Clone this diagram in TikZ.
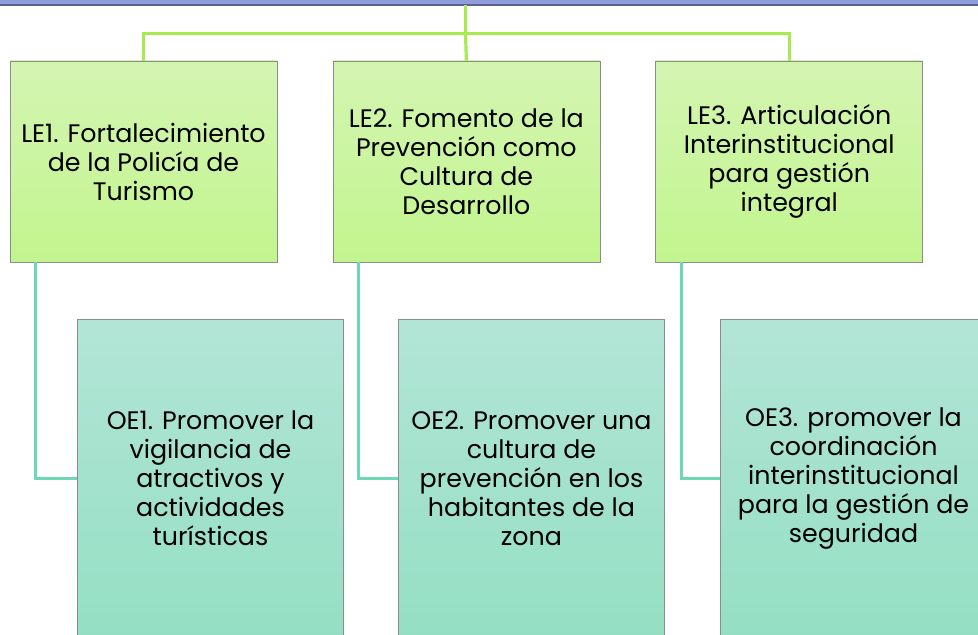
\documentclass[tikz,border=0pt]{standalone}
\usepackage{fontspec}
\setmainfont{Poppins}
\usetikzlibrary{positioning}
\definecolor{barblue}{HTML}{8F9CDC}
\definecolor{bardark}{HTML}{5B6090}
\definecolor{trunkgreen}{HTML}{A8EA50}
\definecolor{branchteal}{HTML}{6ED8B6}
\definecolor{boxgray}{HTML}{8C8C8C}
\definecolor{letop}{HTML}{D4F5B2}
\definecolor{lebot}{HTML}{C2F58E}
\definecolor{oetop}{HTML}{B3E5D6}
\definecolor{oebot}{HTML}{94DFC4}

\begin{document}
\begin{tikzpicture}[x=0.75pt, y=-0.75pt,
	lebox/.style={draw=boxgray, top color=letop, bottom color=lebot, minimum width=200.25pt, minimum height=150.75pt, align=center, inner sep=2pt, font=\fontsize{19}{21.75}\selectfont},
	oebox/.style={draw=boxgray, top color=oetop, bottom color=oebot, minimum width=199.5pt, minimum height=239.25pt, align=center, inner sep=2pt, font=\fontsize{19}{21.75}\selectfont},
	trunk/.style={trunkgreen, line width=2.4pt},
	branch/.style={branchteal, line width=2pt}]
	\useasboundingbox (0,0) rectangle (978,635);
	\clip (0,0) rectangle (978,635);
	\node[fill=barblue, minimum width=825pt, minimum height=22.5pt, inner sep=0pt] (root) at (465.5,-10) {};
	\draw[bardark, line width=1.2pt] (root.south west) -- (root.south east);
	\node[lebox] (le1) at (143.5,161.5) {LE1. Fortalecimiento\\de la Policía de\\Turismo};
	\node[lebox, right=41.5pt of le1] (le2) {LE2. Fomento de la\\Prevención como\\Cultura de\\Desarrollo};
	\node[lebox, right=41.5pt of le2] (le3) {LE3. Articulación\\Interinstitucional\\para gestión\\integral};
	\draw[trunk] (root.south) -- ++(0,28) coordinate (hub);
	\draw[trunk] (le1.north) |- (hub) -| (le3.north);
	\draw[trunk] (hub) -- (le2.north);
	\node[oebox] (oe1) at (210.5,478.5) {OE1. Promover la\\vigilancia de\\atractivos y\\actividades\\turísticas};
	\node[oebox] (oe2) at (531.5,478.5) {OE2. Promover una\\cultura de\\prevención en los\\habitantes de la\\zona};
	\node[oebox] (oe3) at (853.5,478.5) {OE3. promover la\\coordinación\\interinstitucional\\para la gestión de\\seguridad};
	\foreach \i in {1,2,3} {\draw[branch] ([xshift=19.5pt]le\i.south west) |- (oe\i.west);}
\end{tikzpicture}
\end{document}
